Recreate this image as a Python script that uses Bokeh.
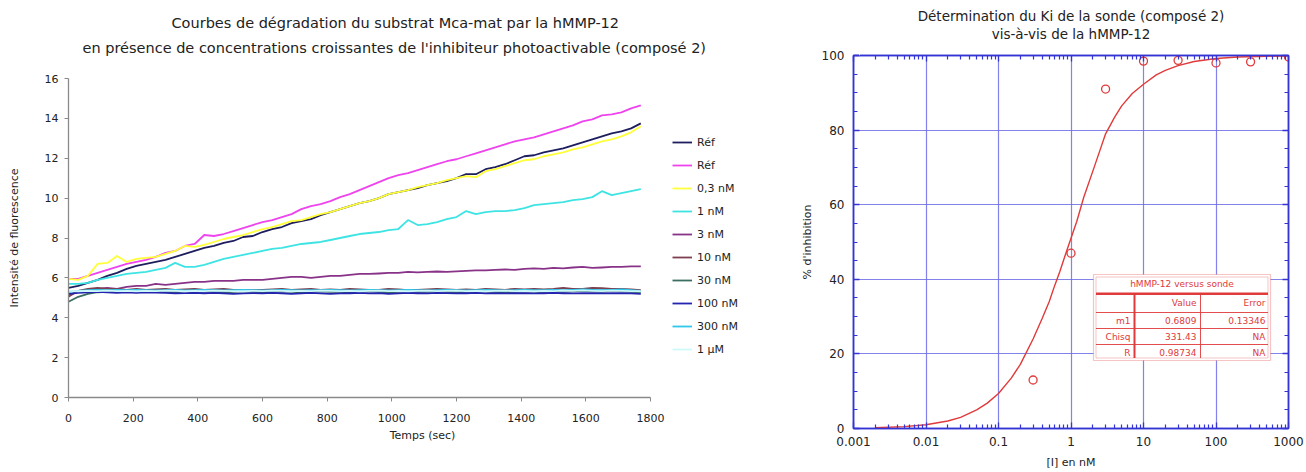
from bokeh.plotting import figure
from bokeh.layouts import row, column
from bokeh.models import (ColumnDataSource, Legend, LegendItem, LinearAxis, LogAxis, Title,
                          FixedTicker, CustomJSTickFormatter, BoxAnnotation, Label, Range1d)
from bokeh.core.properties import value
from bokeh.embed import file_html
from bokeh.resources import INLINE

# ---------------- data: left chart (fluorescence vs time) ----------------
time_sec = list(range(0, 1800, 30))

ref_1 = [5.5, 5.6, 5.75, 5.9, 6.1, 6.25, 6.45, 6.6, 6.7, 6.8,
         6.9, 7.05, 7.2, 7.35, 7.5, 7.6, 7.75, 7.85, 8.05, 8.1,
         8.3, 8.45, 8.55, 8.75, 8.85, 8.95, 9.15, 9.3, 9.45, 9.6,
         9.75, 9.85, 10.0, 10.2, 10.3, 10.4, 10.5, 10.65, 10.75, 10.85,
         11.0, 11.2, 11.2, 11.45, 11.55, 11.7, 11.9, 12.1, 12.15, 12.3,
         12.4, 12.5, 12.65, 12.8, 12.95, 13.1, 13.25, 13.35, 13.5, 13.75]
ref_2 = [5.95, 5.95, 6.1, 6.25, 6.4, 6.55, 6.7, 6.8, 6.9, 7.05,
         7.25, 7.35, 7.6, 7.7, 8.15, 8.1, 8.2, 8.35, 8.5, 8.65,
         8.8, 8.9, 9.05, 9.2, 9.45, 9.6, 9.7, 9.85, 10.05, 10.2,
         10.4, 10.6, 10.8, 11.0, 11.15, 11.25, 11.4, 11.55, 11.7, 11.85,
         11.95, 12.1, 12.25, 12.4, 12.55, 12.7, 12.85, 12.95, 13.05, 13.2,
         13.35, 13.5, 13.65, 13.85, 13.95, 14.15, 14.2, 14.3, 14.5, 14.65]
c_0_3nM = [5.95, 5.9, 6.1, 6.7, 6.75, 7.1, 6.8, 6.95, 7.0, 7.05,
           7.2, 7.35, 7.6, 7.55, 7.65, 7.8, 7.95, 8.05, 8.15, 8.3,
           8.45, 8.55, 8.7, 8.85, 8.9, 9.05, 9.2, 9.3, 9.45, 9.6,
           9.75, 9.85, 10.0, 10.2, 10.3, 10.4, 10.55, 10.65, 10.75, 10.9,
           11.0, 11.1, 11.05, 11.35, 11.45, 11.6, 11.75, 11.9, 11.95, 12.1,
           12.2, 12.3, 12.45, 12.55, 12.7, 12.85, 12.95, 13.1, 13.3, 13.6]
c_1nM = [5.7, 5.7, 5.75, 5.9, 6.0, 6.1, 6.2, 6.25, 6.3, 6.4,
         6.5, 6.75, 6.55, 6.55, 6.65, 6.8, 6.95, 7.05, 7.15, 7.25,
         7.35, 7.45, 7.5, 7.6, 7.7, 7.75, 7.8, 7.9, 8.0, 8.1,
         8.2, 8.25, 8.3, 8.4, 8.45, 8.9, 8.65, 8.7, 8.8, 8.95,
         9.05, 9.35, 9.2, 9.3, 9.35, 9.35, 9.4, 9.5, 9.65, 9.7,
         9.75, 9.8, 9.9, 9.95, 10.05, 10.35, 10.15, 10.25, 10.35, 10.45]
c_3nM = [5.15, 5.3, 5.4, 5.45, 5.5, 5.45, 5.55, 5.6, 5.6, 5.7,
         5.65, 5.7, 5.75, 5.8, 5.8, 5.85, 5.85, 5.85, 5.9, 5.9,
         5.9, 5.95, 6.0, 6.05, 6.05, 6.0, 6.05, 6.1, 6.1, 6.15,
         6.2, 6.2, 6.22, 6.25, 6.25, 6.3, 6.28, 6.3, 6.32, 6.3,
         6.33, 6.35, 6.38, 6.38, 6.4, 6.42, 6.4, 6.45, 6.48, 6.45,
         6.5, 6.48, 6.52, 6.55, 6.5, 6.52, 6.55, 6.55, 6.58, 6.58]
c_10nM = [5.05, 5.35, 5.45, 5.5, 5.45, 5.45, 5.4, 5.45, 5.4, 5.42,
          5.45, 5.4, 5.42, 5.45, 5.4, 5.42, 5.45, 5.4, 5.4, 5.38,
          5.4, 5.42, 5.45, 5.4, 5.42, 5.45, 5.4, 5.42, 5.4, 5.45,
          5.42, 5.4, 5.4, 5.45, 5.42, 5.38, 5.4, 5.42, 5.45, 5.42,
          5.4, 5.42, 5.4, 5.45, 5.42, 5.4, 5.45, 5.42, 5.45, 5.42,
          5.45, 5.5, 5.45, 5.45, 5.5, 5.48, 5.45, 5.45, 5.42, 5.38]
c_30nM = [4.8, 5.05, 5.2, 5.28, 5.3, 5.32, 5.3, 5.33, 5.3, 5.32,
          5.3, 5.28, 5.32, 5.3, 5.33, 5.3, 5.28, 5.3, 5.32, 5.3,
          5.28, 5.3, 5.32, 5.3, 5.28, 5.3, 5.33, 5.3, 5.3, 5.28,
          5.3, 5.32, 5.3, 5.28, 5.3, 5.32, 5.3, 5.3, 5.33, 5.3,
          5.28, 5.3, 5.32, 5.3, 5.3, 5.28, 5.3, 5.32, 5.3, 5.3,
          5.32, 5.3, 5.33, 5.35, 5.32, 5.3, 5.35, 5.33, 5.3, 5.28]
c_100nM = [5.2, 5.25, 5.28, 5.3, 5.28, 5.25, 5.27, 5.25, 5.28, 5.26,
           5.25, 5.22, 5.24, 5.25, 5.23, 5.25, 5.22, 5.2, 5.22, 5.24,
           5.22, 5.25, 5.23, 5.2, 5.22, 5.25, 5.22, 5.2, 5.22, 5.23,
           5.25, 5.22, 5.24, 5.2, 5.22, 5.25, 5.23, 5.22, 5.25, 5.24,
           5.22, 5.23, 5.25, 5.22, 5.24, 5.22, 5.23, 5.24, 5.22, 5.23,
           5.25, 5.23, 5.22, 5.24, 5.23, 5.22, 5.23, 5.24, 5.22, 5.2]
c_300nM = [5.3, 5.35, 5.38, 5.4, 5.38, 5.4, 5.38, 5.4, 5.38, 5.37,
           5.38, 5.4, 5.37, 5.38, 5.4, 5.38, 5.37, 5.38, 5.4, 5.38,
           5.37, 5.38, 5.4, 5.38, 5.37, 5.38, 5.38, 5.4, 5.38, 5.37,
           5.38, 5.4, 5.38, 5.37, 5.38, 5.4, 5.38, 5.37, 5.38, 5.4,
           5.38, 5.37, 5.38, 5.4, 5.38, 5.37, 5.38, 5.4, 5.38, 5.38,
           5.4, 5.38, 5.4, 5.42, 5.4, 5.38, 5.4, 5.42, 5.38, 5.35]
c_1uM = [5.35, 5.33, 5.35, 5.34, 5.36, 5.34, 5.35, 5.33, 5.35, 5.34,
         5.36, 5.35, 5.33, 5.35, 5.34, 5.36, 5.35, 5.34, 5.33, 5.35,
         5.34, 5.36, 5.35, 5.33, 5.35, 5.34, 5.36, 5.35, 5.34, 5.35,
         5.33, 5.35, 5.36, 5.34, 5.35, 5.33, 5.35, 5.36, 5.34, 5.35,
         5.36, 5.34, 5.35, 5.33, 5.35, 5.36, 5.34, 5.35, 5.33, 5.35,
         5.34, 5.36, 5.35, 5.37, 5.35, 5.34, 5.36, 5.35, 5.34, 5.33]

series_values = [ref_1, ref_2, c_0_3nM, c_1nM, c_3nM, c_10nM, c_30nM, c_100nM, c_300nM, c_1uM]
series_labels = ["Réf", "Réf", "0,3 nM", "1 nM", "3 nM", "10 nM", "30 nM", "100 nM", "300 nM", "1 µM"]
series_colors = ["#1e1e5e", "#ee44ee", "#ffff3a", "#3ee4e4", "#883388",
                 "#7c4050", "#3c6e62", "#2424b0", "#30c8ec", "#cff9f9"]
for s in series_values:
    assert len(s) == len(time_sec), len(s)

x1_ticks = [0, 200, 400, 600, 800, 1000, 1200, 1400, 1600, 1800]
y1_ticks = [0, 2, 4, 6, 8, 10, 12, 14, 16]
X1_MAX, Y1_MAX = 1800, 16

# ---------------- data: right chart (inhibition vs [I]) ----------------
ki_conc = [0.3, 1, 3, 10, 30, 100, 300, 1000]
ki_inhib = [13.0, 47.0, 91.0, 98.5, 98.7, 98.0, 98.3, 99.6]

fit_conc = [0.002, 0.005, 0.01, 0.02, 0.03, 0.05, 0.07, 0.1, 0.15, 0.2, 0.3, 0.4, 0.5,
            0.6, 0.7, 0.85, 1, 1.2, 1.5, 2, 2.5, 3, 4, 5, 7, 10, 15, 20, 30, 50, 100,
            200, 500, 1000]
fit_inhib = [0.2, 0.5, 1.0, 2.0, 3.0, 5.0, 6.8, 9.4, 13.5, 17.2, 24.0, 29.5, 34.0,
             38.5, 42.0, 47.0, 51.0, 55.5, 62.0, 69.0, 74.5, 79.0, 83.5, 86.5, 89.8, 92.3,
             94.8, 96.0, 97.3, 98.4, 99.2, 99.6, 99.8, 99.9]

x2_ticks = [0.001, 0.01, 0.1, 1, 10, 100, 1000]
x2_minor = [m * d for d in [0.001, 0.01, 0.1, 1, 10, 100] for m in range(2, 10)]
y2_ticks = [0, 20, 40, 60, 80, 100]
y2_minor = [v for v in range(0, 101, 5) if v % 20]

left_title = ["Courbes de dégradation du substrat Mca-mat par la hMMP-12",
              "en présence de concentrations croissantes de l'inhibiteur photoactivable (composé 2)"]
right_title = ["Détermination du Ki de la sonde (composé 2)",
               "vis-à-vis de la hMMP-12"]

table_title = "hMMP-12 versus sonde"
table_rows = [["", "Value", "Error"],
              ["m1", "0.6809", "0.13346"],
              ["Chisq", "331.43", "NA"],
              ["R", "0.98734", "NA"]]

FONT = "DejaVu Sans"
TXT = "#222222"


def spacer_axis(px, tick):
    """An invisible axis (one white tick, no label) that only reserves vertical space."""
    return LinearAxis(ticker=FixedTicker(ticks=[tick]), axis_line_color=None,
                      major_tick_line_color="white", minor_tick_line_color=None,
                      major_tick_in=0, major_tick_out=px, minor_tick_in=0, minor_tick_out=0,
                      major_label_text_color=None, major_label_standoff=0)


# ======================= left figure =======================
# The frame is widened to the right (axis bounded to 0..1800) so the legend can sit inside it.
L1, FW1 = 68, 708
p1 = figure(width=780, height=472,
            min_border_left=L1, min_border_right=780 - L1 - FW1, min_border_top=78, min_border_bottom=75,
            x_range=Range1d(0, X1_MAX * FW1 / 582), y_range=Range1d(0, Y1_MAX),
            output_backend="svg", toolbar_location=None)
p1.outline_line_color = None
p1.grid.grid_line_color = None
for ax in (p1.xaxis[0], p1.yaxis[0]):
    ax.axis_line_color = "#8a8a8a"
    ax.axis_line_width = 1.3
    ax.major_tick_line_color = "#8a8a8a"
    ax.major_tick_in = 0
    ax.major_tick_out = 4
    ax.minor_tick_line_color = None
    ax.major_label_text_font = FONT
    ax.major_label_text_font_size = "11px"
    ax.major_label_text_color = TXT
    ax.axis_label_text_font = FONT
    ax.axis_label_text_font_size = "11px"
    ax.axis_label_text_font_style = "normal"
    ax.axis_label_text_color = TXT
p1.xaxis.bounds = (0, X1_MAX)
p1.xaxis.ticker = FixedTicker(ticks=x1_ticks)
p1.yaxis.ticker = FixedTicker(ticks=y1_ticks)
p1.xaxis.axis_label = "Temps (sec)"
p1.yaxis.axis_label = "Intensité de fluorescence"
p1.xaxis.major_label_standoff = 12
p1.xaxis.axis_label_standoff = 4
p1.yaxis.major_label_standoff = 6
p1.yaxis.axis_label_standoff = 21

items = []
for vals, lab, col in zip(series_values, series_labels, series_colors):
    src = ColumnDataSource(dict(t=time_sec, y=vals))
    r = p1.line("t", "y", source=src, line_color=col, line_width=1.8, line_join="round")
    items.append(LegendItem(label=value(lab), renderers=[r]))

legend = Legend(items=items, location=(604, 38), orientation="vertical",
                border_line_color=None, background_fill_alpha=0,
                padding=0, margin=0, spacing=3, glyph_width=20, glyph_height=20,
                label_height=20, label_standoff=5,
                label_text_font=FONT, label_text_font_size="11px", label_text_color=TXT)
p1.add_layout(legend)

# titles: spacer next to the frame, then line 2, then line 1 (outermost)
p1.add_layout(spacer_axis(22, 900), "above")
p1.add_layout(Title(text=left_title[1], align="left", offset=14, vertical_align="middle",
                    standoff=0, text_font=FONT, text_font_size="14.5px",
                    text_font_style="normal", text_color=TXT), "above")
p1.add_layout(Title(text=left_title[0], align="left", offset=103, vertical_align="middle",
                    standoff=14, text_font=FONT, text_font_size="14.5px",
                    text_font_style="normal", text_color=TXT), "above")

# ======================= right figure =======================
BLUE = "#3434d4"
GRID = "#6c6ce4"
RED = "#e03a3a"

p2 = figure(width=526, height=472,
            min_border_left=73, min_border_right=18, min_border_top=55, min_border_bottom=44,
            x_axis_type="log", x_range=Range1d(0.001, 1000), y_range=Range1d(0, 100),
            output_backend="svg", toolbar_location=None)
p2.outline_line_color = BLUE
p2.outline_line_width = 1.5

bottom_ax = p2.below[0]
left_ax = p2.left[0]

xtick = FixedTicker(ticks=x2_ticks, minor_ticks=x2_minor)
ytick = FixedTicker(ticks=y2_ticks, minor_ticks=y2_minor)
fmt = CustomJSTickFormatter(code="return tick >= 1 ? tick.toFixed(0) : parseFloat(tick.toPrecision(1)).toString();")

top_ax = LogAxis(ticker=xtick)
right_ax = LinearAxis(ticker=ytick)
p2.add_layout(top_ax, "above")
p2.add_layout(right_ax, "right")

bottom_ax.ticker = xtick
bottom_ax.formatter = fmt
left_ax.ticker = ytick
for ax in (bottom_ax, left_ax, top_ax, right_ax):
    ax.axis_line_color = BLUE
    ax.axis_line_width = 1.5
    ax.major_tick_line_color = BLUE
    ax.major_tick_line_width = 1.3
    ax.major_tick_in = 6
    ax.major_tick_out = 0
    ax.minor_tick_line_color = BLUE
    ax.minor_tick_line_width = 1.2
    ax.minor_tick_in = 4
    ax.minor_tick_out = 0
    ax.major_label_text_font = FONT
    ax.major_label_text_font_size = "12px"
    ax.major_label_text_color = TXT
    ax.axis_label_text_font = FONT
    ax.axis_label_text_font_size = "11px"
    ax.axis_label_text_font_style = "normal"
    ax.axis_label_text_color = TXT
for ax in (top_ax, right_ax):
    ax.major_label_text_color = None
    ax.major_label_standoff = 0
bottom_ax.major_label_standoff = 8
bottom_ax.axis_label = "[I] en nM"
bottom_ax.axis_label_standoff = 7
left_ax.major_label_standoff = 9
left_ax.axis_label = "% d'inhibition"
left_ax.axis_label_standoff = 5

p2.add_layout(spacer_axis(13, 0.0012), "above")
p2.add_layout(Title(text=right_title[1], align="center", vertical_align="middle",
                    standoff=0, text_font=FONT, text_font_size="13.5px",
                    text_font_style="normal", text_color=TXT), "above")
p2.add_layout(Title(text=right_title[0], align="center", vertical_align="middle",
                    standoff=0, text_font=FONT, text_font_size="13.5px",
                    text_font_style="normal", text_color=TXT), "above")

p2.xgrid.ticker = xtick
p2.ygrid.ticker = ytick
p2.grid.grid_line_color = GRID
p2.grid.grid_line_width = 1.2
p2.grid.grid_line_alpha = 0.85

p2.line(fit_conc, fit_inhib, line_color=RED, line_width=1.4)
p2.scatter(ki_conc, ki_inhib, marker="circle", size=8, fill_color=None,
           line_color=RED, line_width=1.3)

# --- stats table (screen coords relative to the frame) ---
TL, C1, C2, TR = 240, 281, 347, 417
YT, Y1, Y2, Y3, Y4, YB = 154, 135, 116, 100, 84, 68


def sbox(left, right, bottom, top, **kw):
    return BoxAnnotation(left=left, right=right, bottom=bottom, top=top,
                         left_units="screen", right_units="screen",
                         bottom_units="screen", top_units="screen", **kw)


p2.add_layout(sbox(TL, TR, YB, YT, fill_color="white", fill_alpha=1.0,
                   line_color=RED, line_width=1.2))
p2.add_layout(sbox(TL + 2.5, TR - 2.5, YB + 2.5, YT - 2.5, fill_alpha=0.0,
                   line_color=RED, line_width=1.0))
p2.add_layout(sbox(TL + 2.5, TR - 2.5, Y1 - 1.5, Y1 + 1, fill_color=RED, fill_alpha=1.0, line_alpha=0))
for yv in (Y2, Y3, Y4):
    p2.add_layout(sbox(TL + 2.5, TR - 2.5, yv - 0.5, yv + 0.5, fill_color=RED, fill_alpha=0.9, line_alpha=0))
p2.add_layout(sbox(C1 - 1, C1 + 1, YB + 2.5, Y1, fill_color=RED, fill_alpha=1.0, line_alpha=0))
p2.add_layout(sbox(C2 - 0.5, C2 + 0.5, YB + 2.5, Y1, fill_color=RED, fill_alpha=0.9, line_alpha=0))


def tlabel(x, y, text, align):
    return Label(x=x, y=y, x_units="screen", y_units="screen", text=text,
                 text_align=align, text_baseline="middle", text_font=FONT,
                 text_font_size="9px", text_color=RED)


p2.add_layout(tlabel((TL + TR) / 2, (YT + Y1) / 2, table_title, "center"))
row_mid = [(Y1 + Y2) / 2, (Y2 + Y3) / 2, (Y3 + Y4) / 2, (Y4 + YB) / 2]
for ym, cells in zip(row_mid, table_rows):
    for xr, txt in zip((C1 - 4, C2 - 4, TR - 5), cells):
        if txt:
            p2.add_layout(tlabel(xr, ym, txt, "right"))

layout = row(column(p1), column(p2))
open("out.html", "w").write(file_html(layout, INLINE))
